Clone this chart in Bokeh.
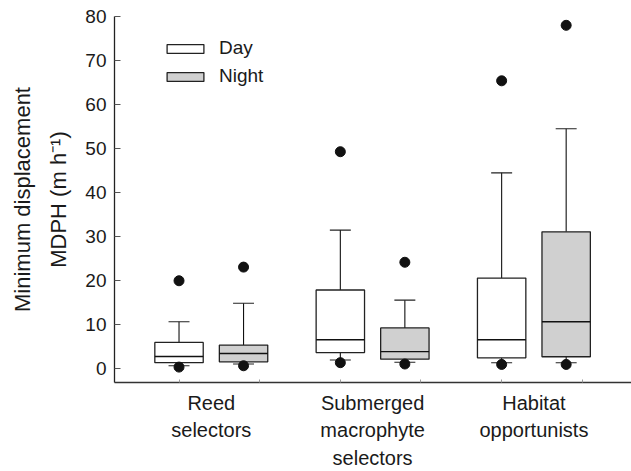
from bokeh.plotting import figure
from bokeh.models import FixedTicker, Legend, LegendItem, ColumnDataSource, Range1d
from bokeh.embed import file_html
from bokeh.resources import INLINE

# ---- data ----
groups = ["Reed\nselectors", "Submerged\nmacrophyte\nselectors", "Habitat\nopportunists"]
group_pos = [1, 2, 3]

day_q1 = [1.4, 3.7, 2.5]
day_med = [2.8, 6.6, 6.6]
day_q3 = [6.0, 17.9, 20.6]
day_wlo = [0.7, 2.0, 1.4]
day_whi = [10.7, 31.5, 44.5]
day_out_lo = [0.4, 1.4, 1.0]
day_out_hi = [20.0, 49.3, 65.4]

night_q1 = [1.6, 2.2, 2.75]
night_med = [3.5, 3.9, 10.7]
night_q3 = [5.4, 9.3, 31.1]
night_wlo = [1.1, 1.5, 1.4]
night_whi = [14.9, 15.6, 54.5]
night_out_lo = [0.7, 1.1, 1.0]
night_out_hi = [23.1, 24.2, 78.0]

y_ticks = [0, 10, 20, 30, 40, 50, 60, 70, 80]

FONT = "Liberation Sans"
TXT = "#1a1a1a"
BOX_W = 0.30
CAP_W = 0.13
OFFSET = 0.2

p = figure(width=631, height=471, output_backend="svg", toolbar_location=None,
           x_range=Range1d(0.4, 3.605), y_range=Range1d(-3.1, 80),
           min_border_left=114, min_border_right=0, min_border_top=16, min_border_bottom=83)
p.outline_line_color = None
p.grid.grid_line_color = None
p.background_fill_color = "white"
p.border_fill_color = "white"


def draw_series(offset, q1, med, q3, wlo, whi, olo, ohi, fill):
    xs = [g + offset for g in group_pos]
    src = ColumnDataSource(dict(
        x=xs, q1=q1, med=med, q3=q3, wlo=wlo, whi=whi, olo=olo, ohi=ohi,
        xl=[x - BOX_W / 2 for x in xs], xr=[x + BOX_W / 2 for x in xs],
        cl=[x - CAP_W / 2 for x in xs], cr=[x + CAP_W / 2 for x in xs],
    ))
    # whiskers
    p.segment(x0="x", y0="q3", x1="x", y1="whi", source=src, line_color="#111111", line_width=1.1)
    p.segment(x0="x", y0="q1", x1="x", y1="wlo", source=src, line_color="#111111", line_width=1.1)
    p.segment(x0="cl", y0="whi", x1="cr", y1="whi", source=src, line_color="#222222", line_width=1.1)
    p.segment(x0="cl", y0="wlo", x1="cr", y1="wlo", source=src, line_color="#222222", line_width=1.1)
    box = p.vbar(x="x", width=BOX_W, bottom="q1", top="q3", source=src,
                 fill_color=fill, line_color="#222222", line_width=1.3)
    p.segment(x0="xl", y0="med", x1="xr", y1="med", source=src, line_color="#111111", line_width=1.4)
    p.scatter(x="x", y="olo", source=src, size=10, marker="circle", fill_color="#111111", line_color="#111111")
    p.scatter(x="x", y="ohi", source=src, size=10, marker="circle", fill_color="#111111", line_color="#111111")
    return box


day_box = draw_series(-OFFSET, day_q1, day_med, day_q3, day_wlo, day_whi, day_out_lo, day_out_hi, "white")
night_box = draw_series(OFFSET, night_q1, night_med, night_q3, night_wlo, night_whi, night_out_lo, night_out_hi, "#d0d0d0")

# ---- axes ----
yax = p.yaxis[0]
yax.ticker = FixedTicker(ticks=y_ticks, minor_ticks=[])
yax.major_tick_in = 6
yax.major_tick_out = 0
yax.major_tick_line_color = "#555555"
yax.major_label_standoff = 8
yax.major_label_text_font = FONT
yax.major_label_text_font_size = "19px"
yax.major_label_text_color = TXT
yax.axis_line_color = "#222222"
yax.axis_line_width = 1.3
yax.axis_label = "Minimum displacement\nMDPH (m h\u207b\u00b9)"
yax.axis_label_text_font = FONT
yax.axis_label_text_font_size = "22px"
yax.axis_label_text_font_style = "normal"
yax.axis_label_text_color = TXT
yax.axis_label_text_line_height = 1.45
yax.axis_label_standoff = 11

xax = p.xaxis[0]
xax.ticker = FixedTicker(ticks=group_pos, minor_ticks=[0.8, 1.3, 1.8, 2.3, 2.8, 3.3])
xax.major_label_overrides = {g: lab for g, lab in zip(group_pos, groups)}
xax.major_tick_line_color = None
xax.major_tick_in = 0
xax.major_tick_out = 0
xax.minor_tick_in = 3
xax.minor_tick_out = 0
xax.minor_tick_line_color = "#999999"
xax.major_label_standoff = 9
xax.major_label_text_font = FONT
xax.major_label_text_font_size = "20px"
xax.major_label_text_color = TXT
xax.major_label_text_line_height = 1.25
xax.axis_line_color = "#333333"
xax.axis_line_width = 1.3

# ---- legend ----
legend = Legend(items=[LegendItem(label="Day", renderers=[day_box]),
                       LegendItem(label="Night", renderers=[night_box])],
                location=(48, 295), orientation="vertical",
                glyph_width=46, glyph_height=11, label_standoff=11,
                label_text_font=FONT, label_text_font_size="19px", label_text_color=TXT,
                label_height=11, spacing=6, padding=0, margin=0,
                border_line_color=None, background_fill_alpha=0)
p.add_layout(legend)

open("out.html", "w").write(file_html(p, INLINE))
